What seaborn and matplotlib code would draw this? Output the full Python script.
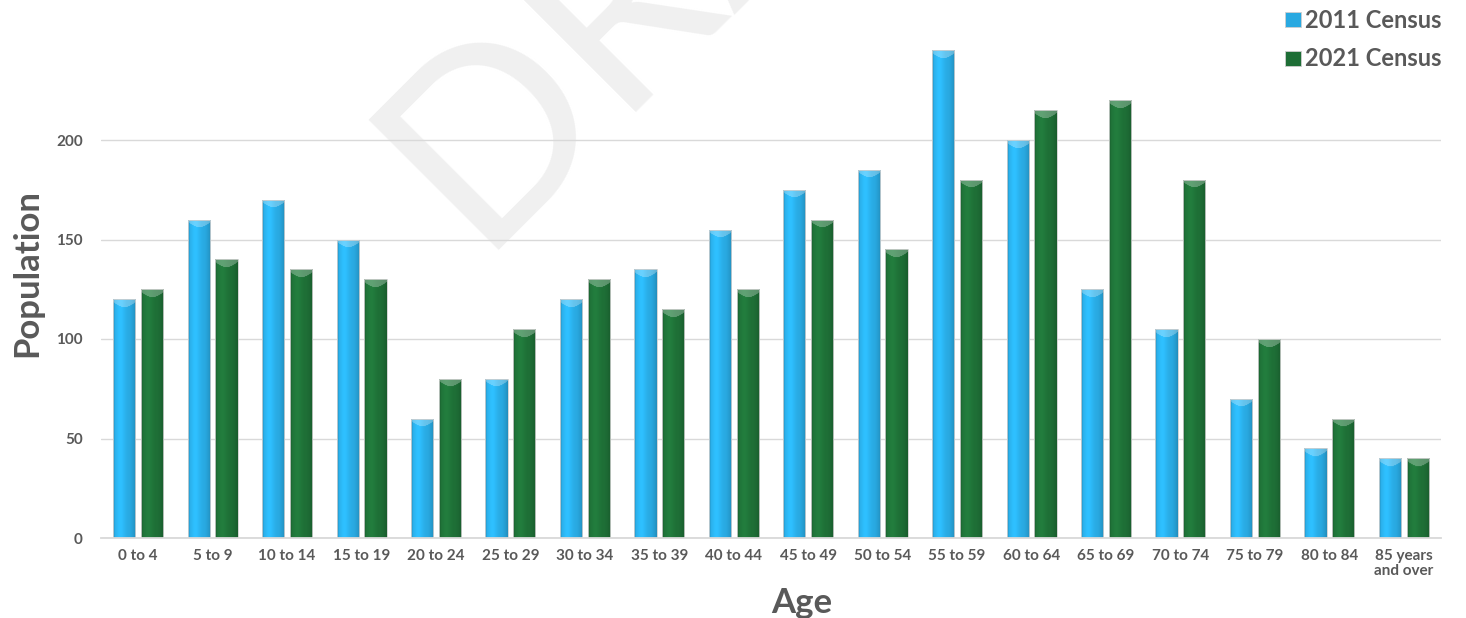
import numpy as np
import pandas as pd
import matplotlib
matplotlib.use("Agg")
import matplotlib.pyplot as plt
import seaborn as sns
from matplotlib.patches import Patch

# ---- data -------------------------------------------------------------
age_groups = ["0 to 4", "5 to 9", "10 to 14", "15 to 19", "20 to 24", "25 to 29",
              "30 to 34", "35 to 39", "40 to 44", "45 to 49", "50 to 54", "55 to 59",
              "60 to 64", "65 to 69", "70 to 74", "75 to 79", "80 to 84",
              "85 years\nand over"]
census_2011 = [120, 160, 170, 150, 60, 80, 120, 135, 155, 175, 185, 245,
               200, 125, 105, 70, 45, 40]
census_2021 = [125, 140, 135, 130, 80, 105, 130, 115, 125, 160, 145, 180,
               215, 220, 180, 100, 60, 40]
series_names = ["2011 Census", "2021 Census"]
y_ticks = [0, 50, 100, 150, 200]

df = pd.DataFrame({
    "Age": age_groups * 2,
    "Population": census_2011 + census_2021,
    "Census": [series_names[0]] * len(age_groups) + [series_names[1]] * len(age_groups),
})

# ---- style ------------------------------------------------------------
BLUE = "#29A9E1"
GREEN = "#1E6E36"
TEXT = "#595959"
GRID = "#D9D9D9"
palette = {series_names[0]: BLUE, series_names[1]: GREEN}

sns.set_theme(style="white")
plt.rcParams["font.family"] = ["Lato", "DejaVu Sans"]

W, H = 1466, 618
fig = plt.figure(figsize=(W / 100, H / 100), dpi=100)
YMAX = 250
ax = fig.add_axes([101 / W, 1 - 538 / H, 1340 / W, 497.5 / H])
ax.set_facecolor("none")

# watermark behind the chart
fig.text(475 / W, 1 - 250 / H, "DRAFT", rotation=45, rotation_mode="anchor",
         ha="left", va="baseline", fontsize=185, color="#F0F0F0", zorder=-5)

sns.barplot(data=df, x="Age", y="Population", hue="Census", palette=palette,
            width=0.745, gap=0.2, saturation=1, edgecolor="#cfcfcf",
            linewidth=0.6, legend=False, ax=ax)

# ---- bevelled shading on each bar --------------------------------------
px_per_unit = 497.5 / YMAX


def shaded(base, rows, cols=40):
    u = np.linspace(0, 1, cols)
    prof = (1.0 + 0.14 * np.exp(-((u - 0.32) / 0.22) ** 2)
            - 0.16 * np.clip((u - 0.72) / 0.28, 0, 1) ** 1.5
            - 0.10 * (u < 0.06))
    rgb = np.array(matplotlib.colors.to_rgb(base))
    img = np.clip(prof[None, :, None] * rgb[None, None, :], 0, 1)
    img = np.repeat(img, rows, axis=0)
    r = np.arange(rows)[:, None]
    cap = r < (2.5 + 5.0 * np.sin(np.pi * u))[None, :]
    lift = np.where(cap, 0.28, 0.0)[..., None]
    img = img + (1 - img) * lift
    return img


for p in list(ax.patches):
    h = p.get_height()
    if h <= 0:
        continue
    x0, w = p.get_x(), p.get_width()
    rows = max(int(h * px_per_unit), 8)
    img = shaded(p.get_facecolor(), rows)
    im = ax.imshow(img, extent=(x0, x0 + w, 0, h), aspect="auto",
                   origin="upper", interpolation="bilinear", zorder=2.1)
    im.set_clip_path(p)
    p.set_facecolor("none")
    p.set_zorder(2.2)

ax.set_xlim(-0.5, len(age_groups) - 0.5)
ax.set_ylim(0, YMAX)

# ---- axes cosmetics ------------------------------------------------------
ax.set_yticks(y_ticks)
ax.yaxis.grid(True, color=GRID, lw=1)
ax.set_axisbelow(True)
for s in ["left", "right", "top"]:
    ax.spines[s].set_visible(False)
ax.spines["bottom"].set_color(GRID)
ax.spines["bottom"].set_linewidth(1.3)

ax.tick_params(axis="y", length=0, pad=13, labelsize=11, labelcolor=TEXT)
ax.tick_params(axis="x", which="major", length=0, pad=8, labelsize=11,
               labelcolor=TEXT)
ax.set_xticks(np.linspace(-0.5, len(age_groups) - 0.5, 23), minor=True)
ax.tick_params(axis="x", which="minor", length=5, width=1.2, color=GRID,
               direction="out")
for lbl in ax.get_xticklabels() + ax.get_yticklabels():
    lbl.set_fontweight("bold")
    lbl.set_linespacing(1.1)

ax.set_xlabel("Age", fontsize=25, fontweight="bold", color=TEXT)
ax.xaxis.label.set_va("center")
ax.xaxis.set_label_coords(0.523, -0.131)
ax.set_ylabel("Population", fontsize=25, fontweight="bold", color=TEXT)
ax.yaxis.label.set_va("center")
ax.yaxis.set_label_coords(-0.055, 0.532)

# ---- legend --------------------------------------------------------------
handles = [Patch(facecolor=palette[s], edgecolor="#cfcfcf", linewidth=0.6)
           for s in series_names]
leg = fig.legend(handles, series_names, loc="upper right",
                 bbox_to_anchor=(1458 / W, 1.012), frameon=False,
                 fontsize=17, handlelength=0.7, handleheight=0.6,
                 handletextpad=0.15, labelspacing=0.65, borderaxespad=0.3)
for t in leg.get_texts():
    t.set_fontweight("bold")
    t.set_color(TEXT)

fig.savefig("out.png", dpi=100)
